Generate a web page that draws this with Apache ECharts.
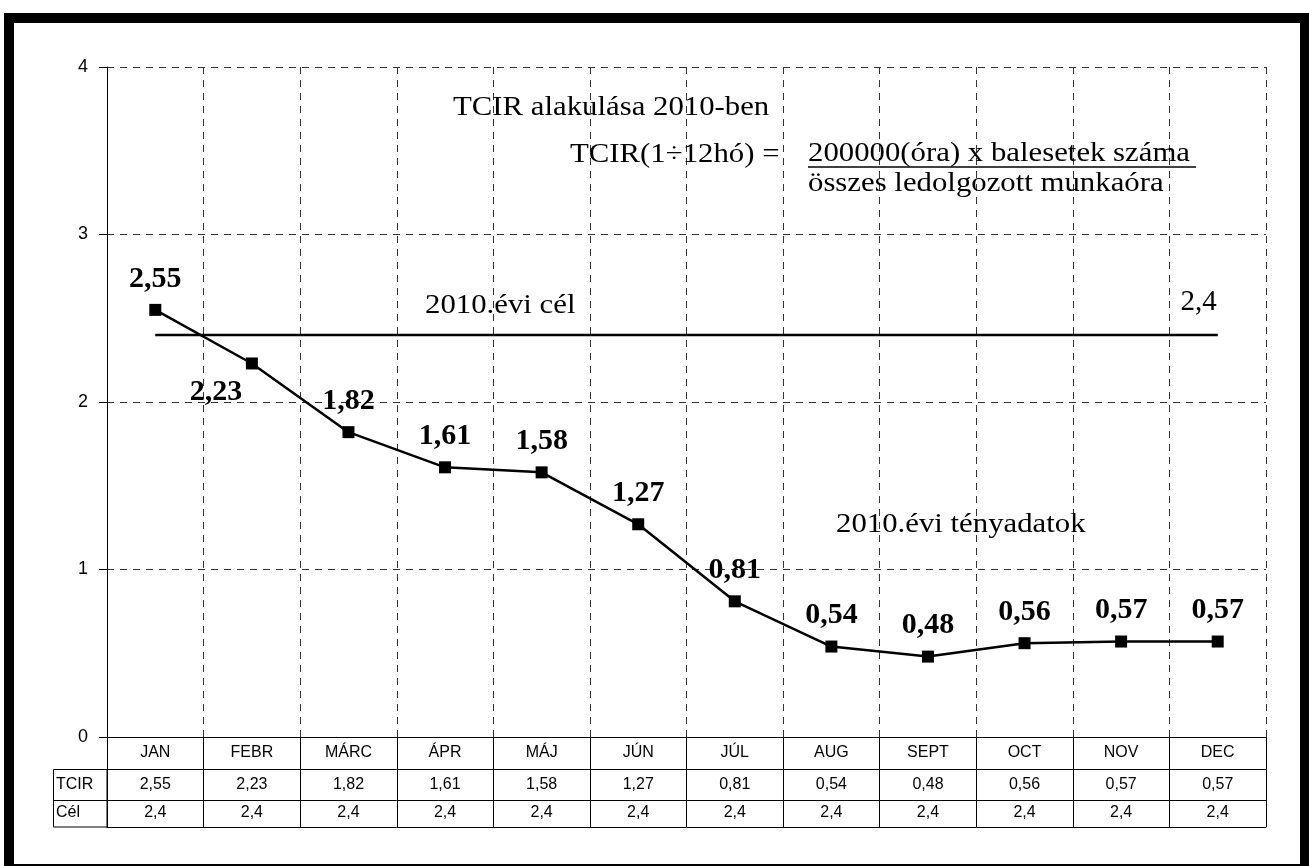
<!DOCTYPE html>
<html><head><meta charset="utf-8">
<script src="https://cdn.jsdelivr.net/npm/echarts@6/dist/echarts.min.js"></script>
<style>html,body{margin:0;padding:0;background:#fff}#c{width:1309px;height:866px}</style>
</head><body><div id="c"></div>
<script>
const categories = ['JAN','FEBR','MÁRC','ÁPR','MÁJ','JÚN','JÚL','AUG','SEPT','OCT','NOV','DEC'];
const tcirValues = [2.55, 2.23, 1.82, 1.61, 1.58, 1.27, 0.81, 0.54, 0.48, 0.56, 0.57, 0.57];
const celValues = [2.4, 2.4, 2.4, 2.4, 2.4, 2.4, 2.4, 2.4, 2.4, 2.4, 2.4, 2.4];
const tableRowNames = ['TCIR', 'Cél'];
const yMin = 0, yMax = 4, yStep = 1;

const fmt = v => String(v).replace('.', ',');
const SERIF = '"Liberation Serif", "Times New Roman", serif';
const SANS = '"Liberation Sans", Arial, sans-serif';

const chart = echarts.init(document.getElementById('c'), null, {renderer: 'canvas'});

function tableAxis(offset, tickLen, labels, margin) {
  return {
    type: 'category', data: categories, position: 'bottom', offset: offset, boundaryGap: true,
    axisLine: {show: true, lineStyle: {color: '#000', width: 1}},
    axisTick: {show: tickLen > 0, interval: 0, length: tickLen, lineStyle: {color: '#000', width: 1}},
    axisLabel: {show: !!labels, interval: 0, margin: margin, color: '#000', fontFamily: SANS, fontSize: 16, lineHeight: 16,
      formatter: (v, i) => labels ? labels[i] : ''},
    splitLine: {show: false}
  };
}

const xAxes = [
  tableAxis(0, 32, categories, 8),
  tableAxis(32, 31, tcirValues.map(fmt), 8),
  tableAxis(63, 27, celValues.map(fmt), 5),
  tableAxis(90, 0, null, 0)
];
xAxes[0].splitLine = {show: true, interval: 0, lineStyle: {color: '#333', width: 1, type: [7, 6]}};

const tcirData = tcirValues.map((v, i) => i === 1
  ? {value: v, label: {position: 'bottom', offset: [-36, 0], distance: 8}}
  : v);
const celData = celValues.map((v, i) => i === celValues.length - 1
  ? {value: v, label: {show: true, position: 'top', offset: [-19, 0], distance: 18,
      formatter: p => fmt(p.value), fontFamily: SERIF, fontSize: 29, color: '#000'}}
  : v);

const txt = (text, x, y) => ({
  type: 'text', x: x, y: y, scaleX: 1.14, z: 50,
  style: {text: text, font: '27px "Liberation Serif", "Times New Roman", serif', fill: '#000',
    textAlign: 'left', align: 'left', textVerticalAlign: 'middle', verticalAlign: 'middle'}
});

chart.setOption({
  animation: false,
  backgroundColor: '#fff',
  grid: {left: 107, right: 43, top: 67, bottom: 129},
  xAxis: xAxes,
  yAxis: {
    type: 'value', min: yMin, max: yMax, interval: yStep,
    axisLine: {show: true, lineStyle: {color: '#000', width: 1}},
    axisTick: {show: true, length: 8, lineStyle: {color: '#000'}},
    axisLabel: {margin: 19, color: '#000', fontFamily: SANS, fontSize: 18},
    splitLine: {show: true, lineStyle: {color: '#333', width: 1, type: [7, 6]}}
  },
  series: [
    {
      type: 'line', name: 'Cél', data: celData, xAxisIndex: 0,
      symbol: 'circle', symbolSize: 1, showSymbol: true,
      lineStyle: {color: '#000', width: 2.5}, itemStyle: {color: '#000'},
      label: {show: false}, z: 2
    },
    {
      type: 'line', name: 'TCIR', data: tcirData, xAxisIndex: 0,
      symbol: 'rect', symbolSize: 12, showSymbol: true,
      lineStyle: {color: '#000', width: 2.5}, itemStyle: {color: '#000'},
      label: {show: true, position: 'top', distance: 10, formatter: p => fmt(p.value),
        fontFamily: SERIF, fontWeight: 'bold', fontSize: 30, color: '#000'},
      z: 3
    }
  ],
  graphic: [
    {type: 'rect', z: 100, shape: {x: 9, y: 18, width: 1296, height: 851},
      style: {fill: 'transparent', stroke: '#000', lineWidth: 10}},
    {type: 'rect', z: 40, shape: {x: 53.5, y: 769.5, width: 53.5, height: 57.5},
      style: {fill: 'transparent', stroke: '#000', lineWidth: 1}},
    {type: 'line', z: 40, shape: {x1: 53.5, y1: 800.5, x2: 107, y2: 800.5},
      style: {stroke: '#000', lineWidth: 1}},
    {type: 'text', z: 40, x: 56, y: 785, style: {text: tableRowNames[0], font: '16px "Liberation Sans", Arial, sans-serif',
      fill: '#000', textVerticalAlign: 'middle', verticalAlign: 'middle'}},
    {type: 'text', z: 40, x: 56, y: 813, style: {text: tableRowNames[1], font: '16px "Liberation Sans", Arial, sans-serif',
      fill: '#000', textVerticalAlign: 'middle', verticalAlign: 'middle'}},
    txt('TCIR alakulása 2010-ben', 453, 108),
    txt('TCIR(1÷12hó) =', 570, 155),
    txt('200000(óra) x balesetek száma', 808, 154),
    {type: 'line', z: 50, shape: {x1: 808, y1: 167, x2: 1196, y2: 167}, style: {stroke: '#000', lineWidth: 1.5}},
    txt('összes ledolgozott munkaóra', 808, 184),
    txt('2010.évi cél', 425, 306),
    txt('2010.évi tényadatok', 836, 525)
  ]
});
</script>
</body></html>
